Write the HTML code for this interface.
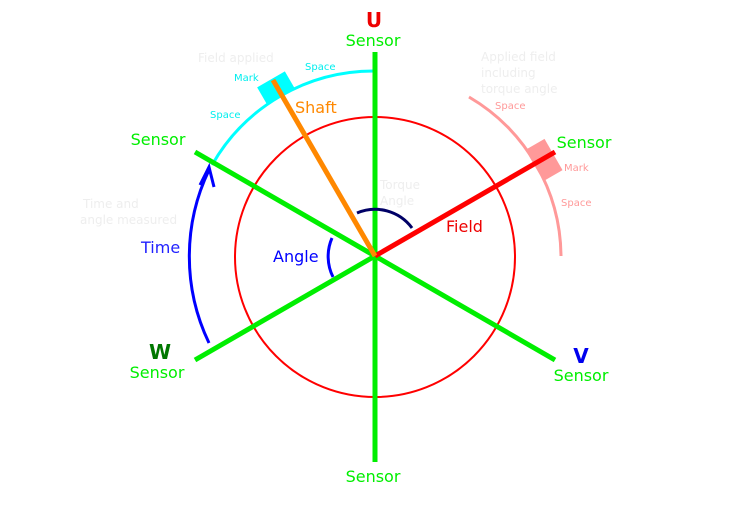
<!DOCTYPE html>
<html><head><meta charset="utf-8"><style>html,body{margin:0;padding:0;background:#fff}svg{display:block}text{font-family:"DejaVu Sans","Liberation Sans",sans-serif}</style></head><body>
<svg width="744" height="524" viewBox="0 0 744 524" xmlns="http://www.w3.org/2000/svg">
<circle cx="375" cy="257" r="140" fill="none" stroke="#f00" stroke-width="2"/>
<path d="M375 71 A186 186 0 0 0 212 165" fill="none" stroke="#0ff" stroke-width="3"/>
<rect x="-16" y="-10" width="32" height="20" fill="#0ff" transform="translate(276 88) rotate(-30)"/>
<path d="M469 97 A186 186 0 0 1 561 256" fill="none" stroke="#f99" stroke-width="3"/>
<rect x="-11" y="-18" width="22" height="36" fill="#f99" transform="translate(544 160) rotate(-30)"/>
<line x1="375" y1="52" x2="375" y2="462" stroke="#0e0" stroke-width="5"/>
<line x1="195" y1="152" x2="555" y2="360" stroke="#0e0" stroke-width="5"/>
<line x1="195" y1="360" x2="375" y2="256" stroke="#0e0" stroke-width="5"/>
<line x1="375" y1="256" x2="555" y2="152" stroke="#f00" stroke-width="5"/>
<line x1="375" y1="256" x2="273" y2="80" stroke="#f80" stroke-width="5"/>
<path d="M209 343 A200 200 0 0 1 209 170" fill="none" stroke="#00f" stroke-width="3"/>
<path d="M200 185 L209 167 L214 187" fill="none" stroke="#00f" stroke-width="3"/>
<path d="M332 238 A46 46 0 0 0 333 277" fill="none" stroke="#00f" stroke-width="3"/>
<path d="M357 213 A46 46 0 0 1 412 228" fill="none" stroke="#006" stroke-width="3"/>
<g font-size="16" fill="#0e0">
<text x="373" y="46" text-anchor="middle">Sensor</text>
<text x="158" y="145" text-anchor="middle">Sensor</text>
<text x="584" y="148" text-anchor="middle">Sensor</text>
<text x="157" y="378" text-anchor="middle">Sensor</text>
<text x="581" y="381" text-anchor="middle">Sensor</text>
<text x="373" y="482" text-anchor="middle">Sensor</text>
</g>
<text x="374" y="27" font-size="20" font-weight="bold" fill="#e00" text-anchor="middle">U</text>
<text x="160" y="359" font-size="20" font-weight="bold" fill="#070" text-anchor="middle">W</text>
<text x="581" y="363" font-size="20" font-weight="bold" fill="#00e" text-anchor="middle">V</text>
<text x="295" y="113" font-size="16" fill="#f80">Shaft</text>
<text x="446" y="232" font-size="16" fill="#e00">Field</text>
<text x="273" y="262" font-size="16" fill="#00f">Angle</text>
<text x="141" y="253" font-size="16" fill="#22f">Time</text>
<g font-size="10" fill="#0ee">
<text x="234" y="81">Mark</text>
<text x="305" y="70">Space</text>
<text x="210" y="118">Space</text>
</g>
<g font-size="10" fill="#f99">
<text x="495" y="109">Space</text>
<text x="564" y="171">Mark</text>
<text x="561" y="206">Space</text>
</g>
<g font-size="12" fill="#eee">
<text x="198" y="62">Field applied</text>
<text x="481" y="61">Applied field</text>
<text x="481" y="77">including</text>
<text x="481" y="93">torque angle</text>
<text x="380" y="189">Torque</text>
<text x="380" y="205">Angle</text>
<text x="83" y="208">Time and</text>
<text x="80" y="224">angle measured</text>
</g>
</svg>
</body></html>
